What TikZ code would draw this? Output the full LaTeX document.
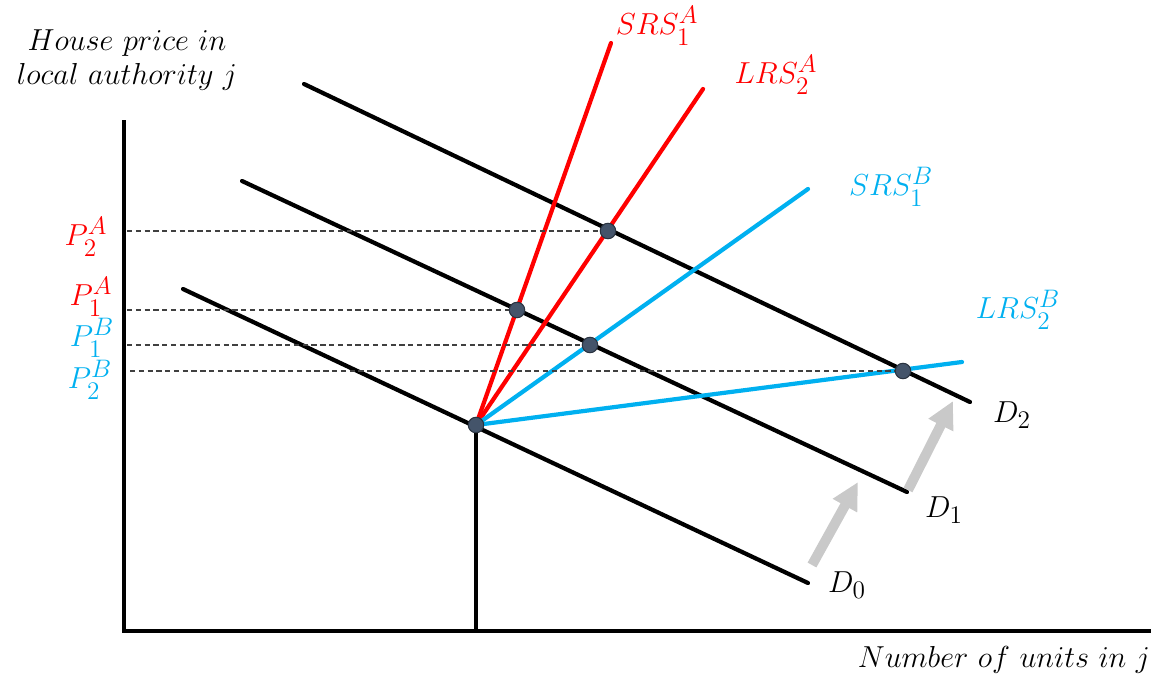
\documentclass[tikz,border=0pt]{standalone}
\usepackage{amsmath,amssymb}
\usepackage{xcolor}
\usepackage{tikz}
\usetikzlibrary{arrows.meta,positioning,calc}
\DeclareMathSizes{18}{18}{13.5}{10}
\definecolor{regionred}{HTML}{FF0000}
\definecolor{regionblue}{HTML}{00B0F0}
\definecolor{dotfill}{HTML}{44546A}
\definecolor{dotedge}{HTML}{2A3340}
\definecolor{shiftgray}{HTML}{C9C9C9}
\tikzset{
    every picture/.style={line cap=round,line join=round},
    axisline/.style={draw=black,line width=2.4pt,line cap=butt,line join=miter},
    demandline/.style={draw=black,line width=2.4pt},
    supplyA/.style={draw=regionred,line width=2.4pt},
    supplyB/.style={draw=regionblue,line width=2.4pt},
    guideline/.style={draw=black!75,line width=0.6pt,dash pattern=on 3pt off 2pt,line cap=butt},
    eqdot/.style={circle,fill=dotfill,draw=dotedge,line width=0.6pt,
      minimum size=3.1mm,inner sep=0pt},
    shiftarrow/.style={-{Triangle[length=5.4mm,width=5.2mm]},draw=shiftgray,
      line width=2mm,line cap=butt},
    curvelabel/.style={inner sep=0pt},
    axislabel/.style={inner sep=1pt,align=center}
}

\begin{document}
\begin{tikzpicture}[x=0.02cm,y=-0.02cm,font=\fontsize{18}{22}\selectfont]
  \useasboundingbox (0,0) rectangle (1163,683);

  % axes
  \coordinate (ytop) at (124,120);
  \coordinate (origin) at (124,631);
  \coordinate (xend) at (1151,631);
  \draw[axisline] (ytop) -- (origin) -- (xend);
  \node[axislabel] (ylab) at (127,60) {$House\ price\ in$\\[-3pt]$local\ authority\ j$};
  \node[axislabel] (xlab) at (1004,660) {$Number\ of\ units\ in\ j$};

  % demand curves
  \coordinate (d0s) at (183,289); \coordinate (d0e) at (808,583);
  \coordinate (d1s) at (242,181); \coordinate (d1e) at (907,492);
  \coordinate (d2s) at (304,84);  \coordinate (d2e) at (970,402);
  \draw[demandline] (d0s) -- (d0e);
  \draw[demandline] (d1s) -- (d1e);
  \draw[demandline] (d2s) -- (d2e);
  \node[curvelabel] (d0lab) at (847,585) {$D_0$};
  \node[curvelabel] (d1lab) at (944,510) {$D_1$};
  \node[curvelabel] (d2lab) at (1012,415) {$D_2$};

  % starting equilibrium and quantity
  \coordinate (eq0) at (476,425);
  \coordinate (q0) at (476,631);
  \draw[axisline] (eq0) -- (q0);

  % supply curves
  \coordinate (srsAend) at (611,43);
  \coordinate (lrsAend) at (703,89);
  \coordinate (srsBend) at (808,189);
  \coordinate (lrsBend) at (962,362);
  \draw[supplyA] (eq0) -- (srsAend);
  \draw[supplyA] (eq0) -- (lrsAend);
  \draw[supplyB] (eq0) -- (srsBend);
  \draw[supplyB] (eq0) -- (lrsBend);
  \node[curvelabel,text=regionred] (srsAlab) at (657,26) {$SRS_1^A$};
  \node[curvelabel,text=regionred] (lrsAlab) at (776,75) {$LRS_2^A$};
  \node[curvelabel,text=regionblue] (srsBlab) at (891,187) {$SRS_1^B$};
  \node[curvelabel,text=regionblue] (lrsBlab) at (1018,310) {$LRS_2^B$};

  \node[eqdot] (e0) at (eq0) {};
  \node[eqdot] (e1a) at (517,310) {};
  \node[eqdot] (e1b) at (590,345) {};
  \node[eqdot] (e2a) at (608,231) {};
  \node[eqdot] (e2b) at (903,371) {};

  % price guides
  \coordinate (p2a) at (127,231);
  \coordinate (p1a) at (127,310);
  \coordinate (p1b) at (127,345);
  \coordinate (p2b) at (130,371);
  \draw[guideline] (p2a) -- (e2a);
  \draw[guideline] (p1a) -- (e1a);
  \draw[guideline] (p1b) -- (e1b);
  \draw[guideline] (p2b) -- (e2b);
  \node[curvelabel,text=regionred] (p2alab) at (86,237) {$P_2^A$};
  \node[curvelabel,text=regionred] (p1alab) at (91,297) {$P_1^A$};
  \node[curvelabel,text=regionblue] (p1blab) at (92,338) {$P_1^B$};
  \node[curvelabel,text=regionblue] (p2blab) at (90,380) {$P_2^B$};

  % demand shifts
  \coordinate (s1s) at (812,565); \coordinate (s1e) at (858,482);
  \coordinate (s2s) at (908,490); \coordinate (s2e) at (953,401);
  \draw[shiftarrow] (s1s) -- (s1e);
  \draw[shiftarrow] (s2s) -- (s2e);
\end{tikzpicture}
\end{document}
